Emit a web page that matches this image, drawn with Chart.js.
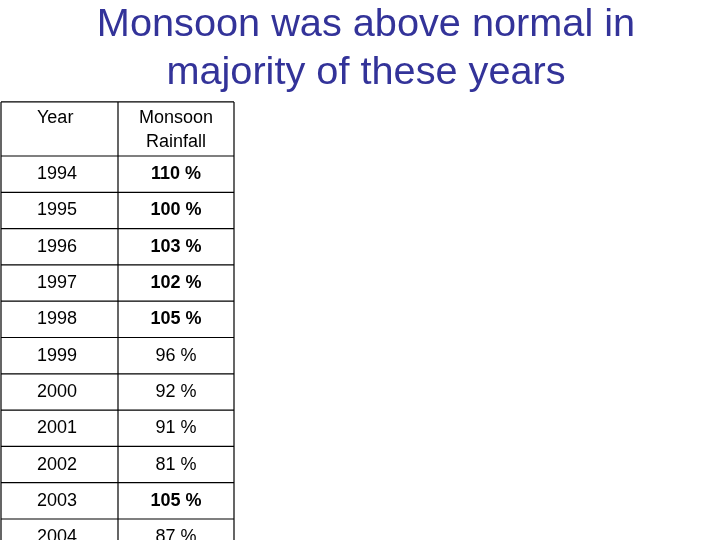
<!DOCTYPE html>
<html><head><meta charset="utf-8">
<script src="https://cdn.jsdelivr.net/npm/chart.js@4"></script>
<style>html,body{margin:0;padding:0;background:#fff}#c{display:block}</style>
</head><body>
<div style="width:720px;height:540px"><canvas id="c"></canvas></div>
<script>
const titleLines = ["Monsoon was above normal in", "majority of these years"];
const headers = ["Year", "Monsoon\nRainfall"];
const years = ["1994","1995","1996","1997","1998","1999","2000","2001","2002","2003","2004"];
const rainfall = [110,100,103,102,105,96,92,91,81,105,87];
const boldFlags = [true,true,true,true,true,false,false,false,false,true,false];

const tablePlugin = {
  id: 'tablePlugin',
  afterDraw(chart) {
    const ctx = chart.ctx, x = chart.scales.x, y = chart.scales.y;
    ctx.save();
    ctx.fillStyle = '#333399';
    ctx.font = '39.7px "Liberation Sans", Arial, sans-serif';
    ctx.textAlign = 'center'; ctx.textBaseline = 'middle';
    ctx.fillText(titleLines[0], x.getPixelForValue(366), 25);
    ctx.fillText(titleLines[1], x.getPixelForValue(366), 73);
    ctx.strokeStyle = '#000'; ctx.lineWidth = 1.2;
    const L = x.getPixelForValue(1), M = x.getPixelForValue(118), R = x.getPixelForValue(234);
    const top = y.getPixelForValue(-1.49), bot = y.getPixelForValue(years.length);
    ctx.beginPath();
    ctx.moveTo(L, top); ctx.lineTo(R, top);
    for (let i = 0; i <= years.length; i++) { const p = y.getPixelForValue(i); ctx.moveTo(L,p); ctx.lineTo(R,p); }
    [L,M,R].forEach(px => { ctx.moveTo(px, top); ctx.lineTo(px, bot); });
    ctx.stroke();
    ctx.fillStyle = '#000'; ctx.textBaseline = 'middle';
    ctx.font = '18px "Liberation Sans", Arial, sans-serif';
    ctx.textAlign = 'left';
    ctx.fillText(headers[0], x.getPixelForValue(37), 118);
    ctx.textAlign = 'center';
    headers[1].split('\n').forEach((t, k) => ctx.fillText(t, x.getPixelForValue(176), 118 + k*24));
    years.forEach((yr, i) => {
      const cy = y.getPixelForValue(i + 0.5);
      ctx.font = '18px "Liberation Sans", Arial, sans-serif';
      ctx.textAlign = 'left';
      ctx.fillText(yr, x.getPixelForValue(37), cy);
      ctx.font = (boldFlags[i] ? 'bold ' : '') + '18px "Liberation Sans", Arial, sans-serif';
      ctx.textAlign = 'center';
      ctx.fillText(rainfall[i] + ' %', x.getPixelForValue(176), cy);
    });
    ctx.restore();
  }
};

new Chart(document.getElementById('c'), {
  type: 'scatter',
  data: { datasets: [{ data: [] }] },
  options: {
    responsive: true, maintainAspectRatio: false, animation: false,
    layout: { padding: 0 },
    plugins: { legend: { display: false }, tooltip: { enabled: false } },
    scales: {
      x: { type: 'linear', min: 0, max: 720, display: false },
      y: { type: 'linear', reverse: true, min: -156/36.3, max: (540-156)/36.3, display: false }
    }
  },
  plugins: [tablePlugin]
});
</script>
</body></html>
